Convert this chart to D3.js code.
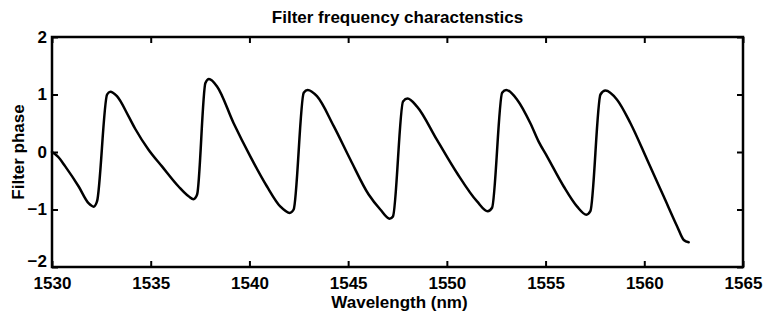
<!DOCTYPE html>
<html>
<head>
<meta charset="utf-8">
<script src="https://cdn.jsdelivr.net/npm/d3@7"></script>
<style>
  html, body { margin: 0; padding: 0; background: #fff; }
  text { font-family: "Liberation Sans", Arial, sans-serif; font-weight: bold; fill: #000; }
</style>
</head>
<body>
<svg id="chart" width="765" height="322"></svg>
<script>
// ---- data ----
const wavelength = [
  1530.0, 1530.3, 1530.67, 1531.35, 1531.85, 1532.11, 1532.28, 1532.79, 1532.95, 1533.29,
  1533.88, 1534.22, 1534.89, 1535.57, 1536.41, 1536.92, 1537.17, 1537.35, 1537.77, 1537.95,
  1538.36, 1539.2, 1540.05, 1540.89, 1541.57, 1542.04, 1542.24, 1542.75, 1542.95, 1543.42,
  1544.27, 1545.11, 1546.04, 1546.63, 1547.1, 1547.27, 1547.78, 1548.01, 1548.49, 1549.5,
  1550.52, 1551.53, 1552.07, 1552.29, 1552.8, 1553.01, 1553.56, 1554.23, 1554.65, 1555.08,
  1555.92, 1556.6, 1557.07, 1557.27, 1557.78, 1558.03, 1558.62, 1559.3, 1560.14, 1560.98,
  1561.66, 1562.0, 1562.25
];
const phase = [
  0.0, -0.08, -0.25, -0.60, -0.89, -0.95, -0.86, 1.0, 1.05, 0.97,
  0.62, 0.40, 0.04, -0.25, -0.60, -0.77, -0.82, -0.74, 1.20, 1.27,
  1.14, 0.50, -0.08, -0.60, -0.95, -1.06, -1.0, 1.03, 1.08, 0.97,
  0.45, -0.13, -0.74, -1.0, -1.16, -1.12, 0.88, 0.93, 0.79, 0.21,
  -0.37, -0.86, -1.03, -0.97, 1.03, 1.08, 0.91, 0.50, 0.18, -0.08,
  -0.60, -0.95, -1.09, -1.03, 1.0, 1.07, 0.91, 0.50, -0.13, -0.77,
  -1.29, -1.53, -1.57
];
const xTicks = [1530, 1535, 1540, 1545, 1550, 1555, 1560, 1565];
const yTicks = [-2, -1, 0, 1, 2];
const title = "Filter frequency charactenstics";
const xLabel = "Wavelength (nm)";
const yLabel = "Filter phase";

// ---- layout ----
const W = 765, H = 322;
const margin = { left: 52, right: 22, top: 37, bottom: 55 };
const svg = d3.select("#chart");
const iw = W - margin.left - margin.right;
const ih = H - margin.top - margin.bottom;
const g = svg.append("g").attr("transform", `translate(${margin.left},${margin.top})`);

const x = d3.scaleLinear().domain([1530, 1565]).range([0, iw]);
const y = d3.scaleLinear().domain([-2, 2]).range([ih, 0]);

function styleAxis(sel) {
  sel.select(".domain").remove();
  sel.selectAll(".tick line").attr("stroke", "#000").attr("stroke-width", 2);
  sel.selectAll(".tick text").style("font-size", "17px").style("font-family", "'Liberation Sans', Arial, sans-serif").style("font-weight", "bold");
}

g.append("g").attr("transform", `translate(0,${ih})`)
  .call(d3.axisBottom(x).tickValues(xTicks).tickFormat(d3.format("d")).tickSize(-6).tickPadding(10))
  .call(styleAxis);
g.append("g")
  .call(d3.axisTop(x).tickValues(xTicks).tickFormat("").tickSize(-6))
  .call(styleAxis);
const yAxisG = g.append("g")
  .call(d3.axisLeft(y).tickValues(yTicks).tickFormat(d3.format("d")).tickSize(-6).tickPadding(5))
  .call(styleAxis);
// lift the bottom "-2" label slightly so it clears "1530"
yAxisG.selectAll(".tick").filter(d => d === -2).select("text").attr("y", -6);
g.append("g").attr("transform", `translate(${iw},0)`)
  .call(d3.axisRight(y).tickValues(yTicks).tickFormat("").tickSize(-6))
  .call(styleAxis);

// frame
g.append("rect").attr("x", 0).attr("y", 0).attr("width", iw).attr("height", ih)
  .attr("fill", "none").attr("stroke", "#000").attr("stroke-width", 2.5);

// curve
const pts = wavelength.map((w, i) => [w, phase[i]]);
const line = d3.line().x(d => x(d[0])).y(d => y(d[1])).curve(d3.curveMonotoneX);
g.append("path").datum(pts).attr("d", line)
  .attr("fill", "none").attr("stroke", "#000").attr("stroke-width", 2.5)
  .attr("stroke-linejoin", "round").attr("stroke-linecap", "round");

// texts
svg.append("text").attr("x", margin.left + iw / 2).attr("y", 23)
  .attr("text-anchor", "middle").style("font-size", "17px").text(title);
svg.append("text").attr("x", margin.left + iw / 2 + 2).attr("y", 308)
  .attr("text-anchor", "middle").style("font-size", "17px").text(xLabel);
svg.append("text").attr("transform", `translate(24,${margin.top + ih / 2}) rotate(-90)`)
  .attr("text-anchor", "middle").style("font-size", "17px").text(yLabel);
</script>
</body>
</html>
